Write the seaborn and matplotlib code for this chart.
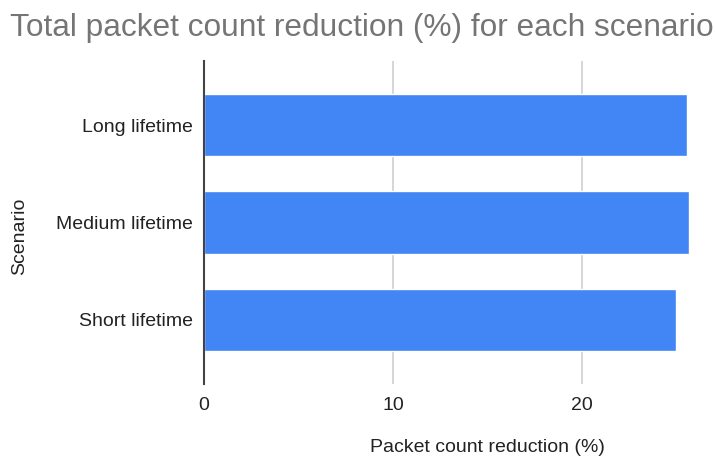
import matplotlib
matplotlib.use("Agg")
import matplotlib.pyplot as plt
import seaborn as sns

scenarios = ["Long lifetime", "Medium lifetime", "Short lifetime"]
reduction_pct = [25.55, 25.65, 25.0]
x_ticks = [0, 10, 20]

sns.set_theme(style="white")
plt.rcParams["font.family"] = ["Liberation Sans", "DejaVu Sans"]

fig = plt.figure(figsize=(7.15, 4.61), dpi=100)
# plot area runs past the right edge of the canvas
ax = fig.add_axes([204 / 715, 77 / 461, 567 / 715, 323 / 461])

sns.barplot(x=reduction_pct, y=scenarios, orient="h", color="#4285F4",
            saturation=1, width=0.64, ax=ax, zorder=3)

ax.set_xlim(0, 30)
ax.set_ylim(2.66, -0.66)
ax.set_xticks(x_ticks)
ax.xaxis.grid(True, color="#d0d0d0", linewidth=1.2, zorder=0)
ax.yaxis.grid(False)
for side in ["top", "right", "bottom"]:
    ax.spines[side].set_visible(False)
ax.spines["left"].set_color("#444444")
ax.spines["left"].set_linewidth(1.5)
ax.spines["left"].set_zorder(4)

ax.tick_params(axis="both", length=0, labelsize=14, labelcolor="#222222")
ax.tick_params(axis="y", pad=8)
ax.tick_params(axis="x", pad=9)

ax.set_xlabel("Packet count reduction (%)", fontsize=14, color="#222222")
ax.xaxis.set_label_coords(0.5, -0.17)
ax.set_ylabel("Scenario", fontsize=14, color="#222222")
ax.yaxis.set_label_coords(-0.31, 0.456)

fig.text(10 / 715, 1 - 28 / 461, "Total packet count reduction (%) for each scenario",
         fontsize=22.8, color="#757575", ha="left", va="center")

fig.savefig("out.png", dpi=100)
